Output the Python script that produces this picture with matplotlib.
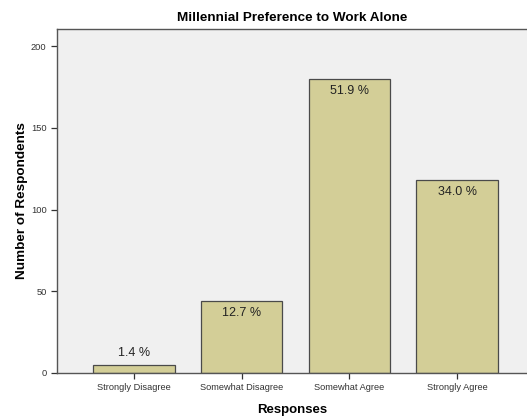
import matplotlib.pyplot as plt

plt.rcParams['font.family'] = ['Liberation Sans', 'DejaVu Sans']

responses = ['Strongly Disagree', 'Somewhat Disagree', 'Somewhat Agree', 'Strongly Agree']
counts = [5, 44, 180, 118]
percents = ['1.4 %', '12.7 %', '51.9 %', '34.0 %']

fig = plt.figure(figsize=(5.27, 4.17), dpi=100)
ax = fig.add_axes([57 / 527, 1 - 373 / 417, (527 - 57) / 527, (373 - 29) / 417])
ax.set_facecolor('#f0f0f0')

x = range(len(responses))
bars = ax.bar(x, counts, width=0.755, color='#d3ce97', edgecolor='#4a4a4a', linewidth=0.9)

for b, c, p in zip(bars, counts, percents):
    cx = b.get_x() + b.get_width() / 2
    if c < 20:
        ax.text(cx, c + 7.5, p, ha='center', va='center', fontsize=9, color='#222222')
    else:
        ax.text(cx, c - 7.5, p, ha='center', va='center', fontsize=9, color='#222222')

ax.set_xlim(-0.715, 3.65)
ax.set_ylim(0, 210.5)
ax.set_yticks([0, 50, 100, 150, 200])
ax.set_xticks(list(x))
ax.set_xticklabels(responses)
ax.tick_params(axis='both', labelsize=6.7, labelcolor='#333333', color='#333333', length=4, width=0.9)

ax.spines['right'].set_visible(False)
for s in ['left', 'bottom', 'top']:
    ax.spines[s].set_color('#555555')
    ax.spines[s].set_linewidth(1)

ax.set_title('Millennial Preference to Work Alone', fontsize=9.7, fontweight='bold', pad=6)
ax.set_xlabel('Responses', fontsize=9.5, fontweight='bold', labelpad=8)
ax.set_ylabel('Number of Respondents', fontsize=9.7, fontweight='bold', labelpad=2)

fig.savefig('out.png', dpi=100)
